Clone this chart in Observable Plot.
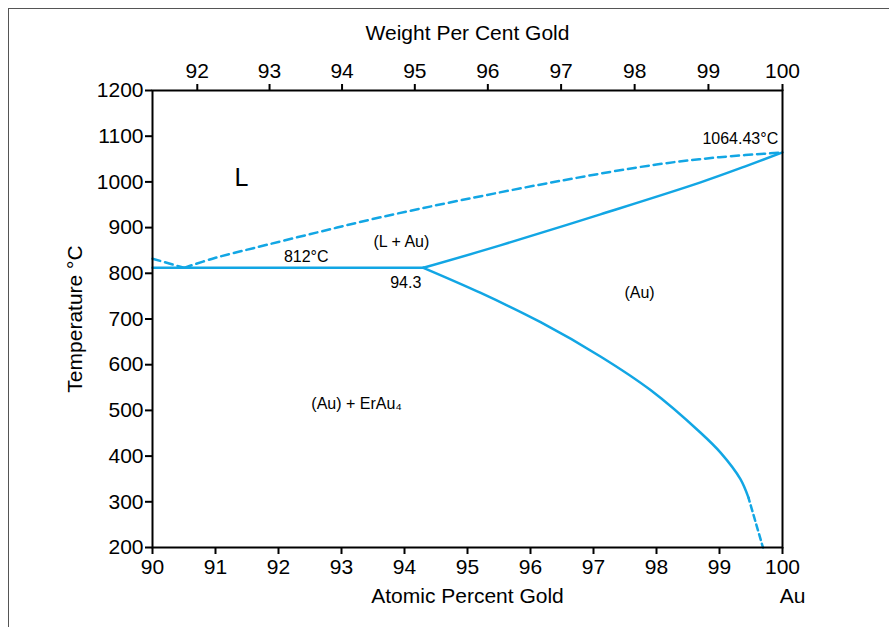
<!DOCTYPE html>
<html>
<head>
<meta charset="utf-8">
<script src="https://cdn.jsdelivr.net/npm/d3@7"></script>
<script src="https://cdn.jsdelivr.net/npm/@observablehq/plot@0.6"></script>
<style>
  html, body { margin: 0; padding: 0; background: #fff; }
  #wrap { position: relative; width: 889px; height: 627px; overflow: hidden; }
  #border { position: absolute; left: 8px; top: 8px; width: 1000px; height: 1000px;
            border-left: 1px solid #555; border-top: 1px solid #555; pointer-events: none; }
  svg { font-family: "Liberation Sans", Arial, sans-serif; }
</style>
</head>
<body>
<div id="wrap"><div id="border"></div></div>
<script>
// ---- Data (atomic % Au, temperature °C) ----
const atTicks = [90, 91, 92, 93, 94, 95, 96, 97, 98, 99, 100];
const wtLabels = [92, 93, 94, 95, 96, 97, 98, 99, 100];
const tempTicks = [200, 300, 400, 500, 600, 700, 800, 900, 1000, 1100, 1200];

const liquidusLeft = [[90, 832], [90.5, 812]];
const liquidus = [[90.5, 812], [91, 834], [91.6, 855], [92.6, 889], [93.6, 922], [94.9, 960],
                  [96.5, 1003], [98, 1038], [99, 1054], [100, 1064.43]];
const eutectic = [[90, 812], [94.3, 812]];
const solidus = [[94.3, 812], [95.52, 861], [97.11, 929], [98.7, 999], [99.41, 1034], [100, 1064.43]];
const solvus = [[94.3, 812], [95.21, 757], [96.16, 693], [97.11, 618], [97.9, 545], [98.7, 451],
                [99.02, 407], [99.33, 350], [99.46, 309]];
const solvusDashed = [[99.46, 309], [99.69, 200]];

const labels = [
  {x: 91.41, y: 1008, text: "L", size: 25},
  {x: 92.44, y: 837, text: "812°C", size: 16},
  {x: 93.95, y: 868, text: "(L + Au)", size: 16},
  {x: 94.02, y: 778, text: "94.3", size: 16},
  {x: 97.73, y: 758, text: "(Au)", size: 16},
  {x: 93.24, y: 515, text: "(Au) + ErAu₄", size: 16},
  {x: 99.33, y: 1095, text: "1064.43°C", size: 16}
];

// weight % -> atomic % conversion (Er 167.26, Au 196.97) for the top axis
const MAu = 196.97, MEr = 167.26;
const wtToAt = w => 100 * (w / MAu) / (w / MAu + (100 - w) / MEr);
const topTicks = wtLabels.map(wtToAt);

const blue = "#12a6e4";
const lineStyle = {x: d => d[0], y: d => d[1], stroke: blue, strokeWidth: 2.5, curve: "catmull-rom"};
const dashStyle = {...lineStyle, strokeDasharray: "8,5"};

const FS = 21;
const chart = Plot.plot({
  width: 889,
  height: 627,
  marginLeft: 152,
  marginRight: 107,
  marginTop: 90,
  marginBottom: 80,
  style: {fontFamily: "Liberation Sans, Arial, sans-serif", background: "transparent"},
  x: {domain: [90, 100]},
  y: {domain: [200, 1200]},
  marks: [
    Plot.line(liquidusLeft, dashStyle),
    Plot.line(liquidus, dashStyle),
    Plot.line(eutectic, lineStyle),
    Plot.line(solidus, lineStyle),
    Plot.line(solvus, lineStyle),
    Plot.line(solvusDashed, {...dashStyle, strokeDasharray: "6,4", strokeDashoffset: 2}),
    Plot.frame({stroke: "black", strokeWidth: 2}),
    Plot.axisX(atTicks, {anchor: "bottom", tickSize: 7, tickPadding: 5, fontSize: FS, strokeWidth: 2, label: null, tickFormat: d => String(d)}),
    Plot.axisX(topTicks, {anchor: "top", tickSize: 7, tickPadding: 6, fontSize: FS, strokeWidth: 2, label: null, tickFormat: d => String(wtLabels[topTicks.indexOf(d)])}),
    Plot.axisY(tempTicks, {anchor: "left", tickSize: 7, tickPadding: 2, fontSize: FS, strokeWidth: 2, label: null, tickFormat: d => String(d)}),
    Plot.text(["Atomic Percent Gold"], {frameAnchor: "bottom", dy: 55, fontSize: FS, fill: "black"}),
    Plot.text(["Au"], {x: [100], frameAnchor: "bottom", text: d => d, dx: 10, dy: 55, fontSize: FS, fill: "black"}),
    Plot.text(["Weight Per Cent Gold"], {frameAnchor: "top", dy: -65, fontSize: FS, fill: "black"}),
    Plot.text(["Temperature °C"], {frameAnchor: "left", textAnchor: "middle", rotate: -90, dx: -77, fontSize: FS, fill: "black"}),
    Plot.text(labels, {x: "x", y: "y", text: "text", fontSize: d => d.size, fill: "black"})
  ]
});
document.getElementById("wrap").prepend(chart);
</script>
</body>
</html>
